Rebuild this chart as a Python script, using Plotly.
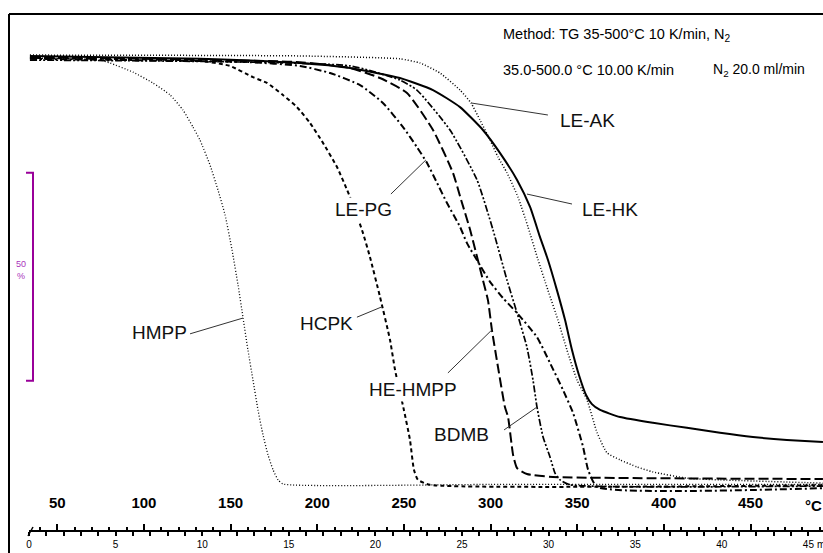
import plotly.graph_objects as go

# ---------------- data (temperature in °C, mass in %) ----------------
hmpp_T = [34.2, 74.6, 80.4, 93.7, 105.2, 115.1, 122.5, 128.3, 132.3, 138.1, 142.7, 146.8, 150.8, 154.3,
          157.2, 160.0, 162.9, 165.8, 168.7, 171.6, 174.5, 177.4, 180.2, 300.0, 491.8]
hmpp_m = [102.4, 101.9, 101.2, 99.0, 96.4, 93.5, 89.9, 85.8, 82.7, 76.7, 70.7, 64.7, 56.3, 47.8,
          39.9, 32.2, 25.0, 17.8, 11.8, 7.0, 3.4, 1.0, 0.0, -0.1, -0.1]

hcpk_T = [34.2, 132.3, 149.6, 162.9, 171.0, 180.2, 188.3, 195.8, 203.3, 211.4, 217.2, 221.8, 226.4, 230.4,
          236.2, 242.0, 244.9, 250.0, 253.5, 255.8, 258.1, 265.0, 491.8]
hcpk_m = [102.4, 101.7, 100.5, 97.8, 96.4, 93.5, 90.6, 86.8, 82.0, 76.2, 70.7, 65.9, 60.3, 54.6,
          45.0, 34.6, 27.4, 17.8, 10.6, 3.4, 1.0, -0.2, -0.3]

lepg_T = [34.2, 161.2, 190.0, 207.4, 224.7, 237.9, 249.5, 257.5, 263.3, 269.1, 274.8, 282.4, 286.4, 293.9,
          299.7, 307.2, 315.3, 326.8, 334.3, 341.8, 347.6, 353.4, 356.3, 361.5, 491.8]
lepg_m = [102.2, 101.4, 100.5, 98.8, 95.9, 91.6, 85.8, 81.0, 77.2, 72.4, 67.6, 61.8, 57.9, 52.6,
          48.6, 44.7, 41.1, 35.3, 29.1, 22.6, 17.1, 8.9, 3.4, -0.7, -1.0]

hehmpp_T = [34.2, 190.0, 218.9, 236.2, 251.8, 266.8, 278.3, 283.0, 288.2, 295.6, 298.5, 300.8, 304.3,
            308.3, 310.1, 313.0, 315.3, 321.0, 336.0, 491.8]
hehmpp_m = [102.6, 101.4, 100.0, 97.6, 94.0, 85.1, 74.8, 68.3, 61.1, 49.0, 44.2, 37.0, 28.1,
            18.5, 16.1, 7.0, 3.8, 2.4, 1.7, 1.2]

bdmb_T = [34.2, 218.9, 247.7, 257.5, 276.6, 292.2, 301.4, 309.5, 315.3, 321.0, 324.5, 326.8, 330.3,
          334.3, 337.2, 340.1, 345.9, 491.8]
bdmb_m = [101.9, 100.5, 97.1, 94.7, 85.1, 73.1, 61.1, 49.0, 41.1, 32.9, 25.0, 18.5, 11.3,
          6.5, 2.6, 1.0, -0.2, -0.5]

leak_T = [34.2, 190.0, 247.7, 259.3, 270.8, 282.4, 288.7, 293.9, 299.7, 304.3, 309.5, 315.8, 321.6,
          327.4, 333.1, 338.9, 344.1, 349.9, 355.7, 361.5, 367.2, 374.7, 384.5, 393.7, 413.3, 432.4, 491.8]
leak_m = [103.1, 102.9, 102.2, 101.2, 98.8, 94.7, 91.6, 87.5, 82.7, 78.6, 74.8, 69.0, 61.8,
          53.9, 46.6, 39.4, 32.2, 25.0, 20.2, 12.3, 7.5, 5.8, 4.1, 2.9, 1.4, 1.0, 0.2]

lehk_T = [34.2, 132.3, 190.0, 218.9, 247.7, 266.8, 282.4, 295.6, 305.4, 315.3, 322.8, 328.5, 333.1,
          338.3, 343.0, 347.0, 351.0, 355.1, 358.5, 363.2, 374.7, 393.7, 413.3, 432.4, 451.4, 471.0, 491.8]
lehk_m = [102.9, 102.2, 101.2, 100.0, 97.6, 94.7, 90.6, 85.1, 79.6, 73.1, 66.6, 59.4, 53.9,
          46.6, 39.4, 32.2, 26.2, 21.4, 19.2, 17.8, 16.1, 14.7, 13.5, 12.3, 11.3, 10.6, 10.1]

# label text positions (T, m) and leader lines ((T0, m0), (T1, m1))
labels = ["HMPP", "HCPK", "HE-HMPP", "BDMB", "LE-PG", "LE-AK", "LE-HK"]
label_T = [108.7, 205.6, 255.2, 283.5, 226.4, 355.7, 368.9]
label_m = [36.3, 38.7, 22.6, 11.8, 65.9, 87.5, 65.9]
leader_T0 = [126.6, 222.9, 275.4, 307.8, 242.5, 288.7, 321.0]
leader_m0 = [36.1, 40.1, 26.7, 13.0, 69.7, 91.6, 69.7]
leader_T1 = [157.2, 237.4, 301.4, 326.8, 262.7, 333.1, 347.0]
leader_m1 = [39.9, 42.6, 37.3, 18.5, 77.9, 88.7, 67.3]

temp_ticks = [50, 100, 150, 200, 250, 300, 350, 400, 450]
time_ticks = [0, 5, 10, 15, 20, 25, 30, 35, 40, 45]

# ---------------- geometry of the drawing ----------------
W, H = 823, 553
PX_PER_C = 1.733          # px per °C
PX_PER_MIN = 17.32        # px per minute
T_LEFT = 50 - 57.3 / PX_PER_C
T_RIGHT = T_LEFT + W / PX_PER_C
PX_PER_PCT = 4.16
M_TOP = 484 / PX_PER_PCT
M_BOT = (484 - H) / PX_PER_PCT
AX_Y = 1 - 531 / H        # paper position of time axis line

series = [
    ("HMPP", hmpp_T, hmpp_m, "1px,2px", 1.3),
    ("HCPK", hcpk_T, hcpk_m, "4px,3px", 2),
    ("LE-PG", lepg_T, lepg_m, "7px,3px,2px,3px", 2),
    ("HE-HMPP", hehmpp_T, hehmpp_m, "10px,4px", 2),
    ("BDMB", bdmb_T, bdmb_m, "7px,2px,2px,2px,2px,2px", 1.7),
    ("LE-AK", leak_T, leak_m, "1px,2px", 1.5),
    ("LE-HK", lehk_T, lehk_m, "solid", 2),
]

fig = go.Figure()
for name, T, m, dash, w in series:
    fig.add_trace(go.Scatter(x=T, y=m, mode="lines", name=name,
                             line=dict(color="black", width=w, dash=dash, shape="spline", smoothing=0.5),
                             showlegend=False, hoverinfo="skip"))

# carrier for the time axis (no visible marks)
fig.add_trace(go.Scatter(x=time_ticks, y=[None] * len(time_ticks), xaxis="x2", yaxis="y",
                         mode="lines", showlegend=False, hoverinfo="skip"))

FONT = "Liberation Sans, Arial, sans-serif"

annotations = []
for txt, tx, tm in zip(labels, label_T, label_m):
    annotations.append(dict(x=tx, y=tm, xref="x", yref="y", text=txt, showarrow=False,
                            font=dict(family=FONT, size=19, color="#111"), bgcolor="white",
                            xanchor="center", yanchor="middle"))

shapes = []
for a, b, c, d in zip(leader_T0, leader_m0, leader_T1, leader_m1):
    shapes.append(dict(type="line", xref="x", yref="y", x0=a, y0=b, x1=c, y1=d,
                       line=dict(color="#333", width=1)))

# 50 % scale bar (purple bracket)
bar_T_in = 50 + (26 - 57.3) / PX_PER_C
bar_T_out = 50 + (33 - 57.3) / PX_PER_C
bar_top = 74.8
bar_bot = bar_top - 50
shapes.append(dict(type="path", xref="x", yref="y",
                   path=f"M {bar_T_in},{bar_top} L {bar_T_out},{bar_top} L {bar_T_out},{bar_bot} L {bar_T_in},{bar_bot}",
                   line=dict(color="#990099", width=2)))
annotations.append(dict(x=20.5 / W, y=1 - 270 / H, xref="paper", yref="paper", text="50<br>%",
                        showarrow=False, font=dict(family=FONT, size=9, color="#aa33bb"),
                        xanchor="center", yanchor="middle"))

# frame
shapes.append(dict(type="line", xref="paper", yref="paper", x0=9 / W, x1=1, y0=1 - 14 / H, y1=1 - 14 / H,
                   line=dict(color="black", width=2)))
shapes.append(dict(type="line", xref="paper", yref="paper", x0=9 / W, x1=9 / W, y0=0, y1=1 - 14 / H,
                   line=dict(color="black", width=2)))
# time axis line + start slash
shapes.append(dict(type="line", xref="paper", yref="paper", x0=29 / W, x1=1, y0=AX_Y, y1=AX_Y,
                   line=dict(color="black", width=2)))
shapes.append(dict(type="line", xref="paper", yref="paper", x0=28 / W, x1=33 / W, y0=1 - 536 / H, y1=1 - 527 / H,
                   line=dict(color="black", width=1.5)))

# header texts
annotations += [
    dict(x=501 / W, y=1 - 35 / H, xref="paper", yref="paper", xanchor="left", yanchor="middle",
         text="Method: TG 35-500°C 10 K/min, N<sub>2</sub>", showarrow=False,
         font=dict(family=FONT, size=14.5, color="black")),
    dict(x=501 / W, y=1 - 70 / H, xref="paper", yref="paper", xanchor="left", yanchor="middle",
         text="35.0-500.0 °C 10.00 K/min", showarrow=False, font=dict(family=FONT, size=14.5, color="black")),
    dict(x=711 / W, y=1 - 70 / H, xref="paper", yref="paper", xanchor="left", yanchor="middle",
         text="N<sub>2</sub> 20.0 ml/min", showarrow=False, font=dict(family=FONT, size=14, color="black")),
    dict(x=803 / W, y=1 - 505 / H, xref="paper", yref="paper", xanchor="left", yanchor="middle",
         text="°C", showarrow=False, font=dict(family=FONT, size=15, color="black", weight="bold")),
    dict(x=815 / W, y=1 - 544 / H, xref="paper", yref="paper", xanchor="left", yanchor="middle",
         text="min", showarrow=False, font=dict(family=FONT, size=10, color="black")),
]

t_left = -29 / PX_PER_MIN
t_right = t_left + W / PX_PER_MIN

fig.update_layout(
    width=W, height=H, margin=dict(l=0, r=0, t=0, b=0),
    paper_bgcolor="white", plot_bgcolor="white",
    xaxis=dict(range=[T_LEFT, T_RIGHT], domain=[0, 1], anchor="free", position=AX_Y, side="top",
               showline=False, showgrid=False, zeroline=False,
               tickmode="array", tickvals=temp_ticks, ticktext=[str(v) for v in temp_ticks],
               ticks="outside", ticklen=7, tickwidth=2, tickcolor="black",
               ticklabelstandoff=10,
               tickfont=dict(family=FONT, size=15, color="black", weight="bold"),
               minor=dict(tickmode="array", tickvals=list(range(40, 491, 10)), ticks="outside",
                          ticklen=4, tickwidth=2, tickcolor="black", showgrid=False)),
    yaxis=dict(range=[M_BOT, M_TOP], domain=[0, 1], visible=False),
    xaxis2=dict(overlaying="x", range=[t_left, t_right], anchor="free", position=AX_Y, side="bottom",
                showline=False, showgrid=False, zeroline=False, showticklabels=True,
                ticklabeloverflow="allow",
                tickmode="array", tickvals=time_ticks, ticktext=[str(v) for v in time_ticks],
                ticks="outside", ticklen=4, tickwidth=2, tickcolor="black",
                tickfont=dict(family=FONT, size=10, color="black"),
                minor=dict(tickmode="array", tickvals=list(range(0, 46)), ticks="outside",
                           ticklen=4, tickwidth=2, tickcolor="black", showgrid=False)),
    shapes=shapes, annotations=annotations,
)

fig.write_html("out.html")
